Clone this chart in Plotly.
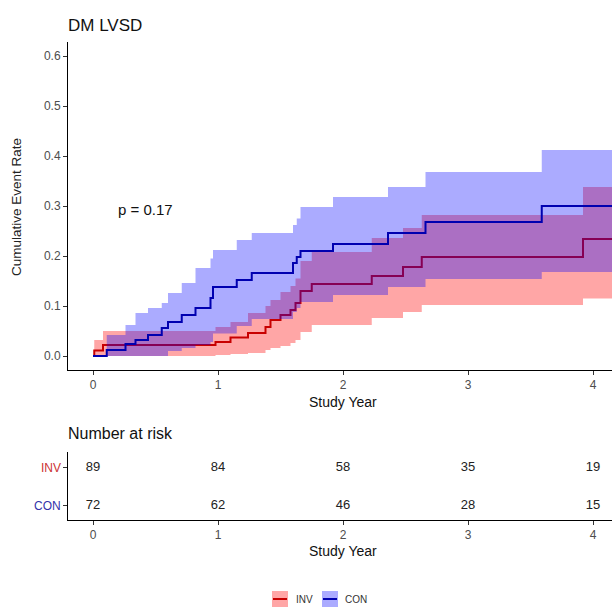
import plotly.graph_objects as go

# Cumulative event rate (1 - KM) with 95% CI, step functions
inv_time = [0, 0.01, 0.08, 0.98, 1.10, 1.24, 1.38, 1.42, 1.50, 1.58, 1.62, 1.66, 1.75, 2.23, 2.48, 2.63, 3.92, 4.2]
inv_est = [0, 0.011, 0.022, 0.028, 0.037, 0.046, 0.058, 0.072, 0.082, 0.092, 0.106, 0.130, 0.144, 0.160, 0.178, 0.198, 0.234, 0.234]
inv_lo = [0, 0, 0, 0.002, 0.004, 0.006, 0.012, 0.016, 0.020, 0.026, 0.032, 0.048, 0.062, 0.076, 0.088, 0.102, 0.115, 0.115]
inv_hi = [0, 0.032, 0.050, 0.058, 0.068, 0.086, 0.100, 0.112, 0.128, 0.140, 0.155, 0.190, 0.208, 0.236, 0.256, 0.282, 0.338, 0.338]

con_time = [0, 0.11, 0.26, 0.34, 0.44, 0.55, 0.60, 0.71, 0.82, 0.94, 0.96, 1.15, 1.27, 1.60, 1.63, 1.66, 1.92, 2.36, 2.66, 3.59, 4.2]
con_est = [0, 0.012, 0.024, 0.032, 0.042, 0.056, 0.068, 0.082, 0.096, 0.116, 0.138, 0.152, 0.166, 0.186, 0.198, 0.210, 0.224, 0.246, 0.268, 0.300, 0.300]
con_lo = [0, 0, 0, 0, 0, 0, 0.010, 0.016, 0.022, 0.028, 0.045, 0.060, 0.074, 0.088, 0.096, 0.108, 0.122, 0.138, 0.154, 0.168, 0.168]
con_hi = [0, 0.042, 0.062, 0.086, 0.096, 0.106, 0.126, 0.146, 0.176, 0.195, 0.212, 0.232, 0.246, 0.262, 0.275, 0.298, 0.318, 0.338, 0.368, 0.412, 0.412]

# Number at risk table
risk_times = [0, 1, 2, 3, 4]
inv_risk = [89, 84, 58, 35, 19]
con_risk = [72, 62, 46, 28, 15]

groups = ["INV", "CON"]
p_label = "p = 0.17"

RED = "#C80000"
BLUE = "#0000B0"
RED_FILL = "rgba(255,0,0,0.35)"
BLUE_FILL = "rgba(0,0,255,0.33)"
FONT = "Liberation Sans, Arial, sans-serif"
TICK_COL = "#4D4D4D"

W, H = 612, 608


def px(x):
    return x / W


def py(y):
    return 1 - y / H


fig = go.Figure()


def add_band(t, lo, hi, fill):
    fig.add_trace(go.Scatter(x=t, y=lo, mode="lines", line=dict(width=0, shape="hv"),
                             hoverinfo="skip", showlegend=False, xaxis="x", yaxis="y"))
    fig.add_trace(go.Scatter(x=t, y=hi, mode="lines", line=dict(width=0, shape="hv"),
                             fill="tonexty", fillcolor=fill, hoverinfo="skip",
                             showlegend=False, xaxis="x", yaxis="y"))


add_band(inv_time, inv_lo, inv_hi, RED_FILL)
fig.add_trace(go.Scatter(x=inv_time, y=inv_est, mode="lines", name="INV",
                         line=dict(color=RED, width=2, shape="hv"), showlegend=False))
add_band(con_time, con_lo, con_hi, BLUE_FILL)
fig.add_trace(go.Scatter(x=con_time, y=con_est, mode="lines", name="CON",
                         line=dict(color=BLUE, width=2, shape="hv"), showlegend=False))

# risk table rows
for row, counts in ((2, inv_risk), (1, con_risk)):
    fig.add_trace(go.Scatter(x=risk_times, y=[row] * len(risk_times), text=[str(v) for v in counts],
                             mode="text", textfont=dict(family=FONT, size=13, color="#222222"),
                             showlegend=False, xaxis="x2", yaxis="y2", hoverinfo="skip"))

xr = [-0.2, (W - 93) / 125]
axis_common = dict(showline=True, linecolor="black", linewidth=1, ticks="outside",
                   ticklen=4, tickcolor="#333333", showgrid=False, zeroline=False,
                   tickfont=dict(family=FONT, size=12, color=TICK_COL))

fig.update_layout(
    width=W, height=H, margin=dict(l=0, r=0, t=0, b=0),
    paper_bgcolor="white", plot_bgcolor="white",
    xaxis=dict(domain=[px(68), 1], range=xr, anchor="y", tickvals=[0, 1, 2, 3, 4], **axis_common),
    yaxis=dict(domain=[py(370), py(42)], range=[-0.028, 0.628], anchor="x",
               tickvals=[0, 0.1, 0.2, 0.3, 0.4, 0.5, 0.6],
               ticktext=["0.0", "0.1", "0.2", "0.3", "0.4", "0.5", "0.6"], **axis_common),
    xaxis2=dict(domain=[px(68), 1], range=xr, anchor="y2", tickvals=[0, 1, 2, 3, 4], **axis_common),
    yaxis2=dict(domain=[py(520), py(452)], range=[0.63, 2.42], anchor="x2",
                tickvals=[1, 2], ticktext=["", ""], **axis_common),
    showlegend=False,
)

ann = []


def text(x, y, s, size, color="black", xanchor="center", angle=0):
    ann.append(dict(x=px(x), y=py(y), xref="paper", yref="paper", text=s, showarrow=False,
                    xanchor=xanchor, yanchor="middle", textangle=angle,
                    font=dict(family=FONT, size=size, color=color)))


text(66, 25, "DM LVSD", 17, "#111111", xanchor="left")
text(16, 207, "Cumulative Event Rate", 13.5, "#222222", angle=-90)
text(343, 402, "Study Year", 14, "#111111")
text(66, 433, "Number at risk", 16, "#111111", xanchor="left")
text(343, 551, "Study Year", 14, "#111111")
text(63, 468, groups[0], 12, "#CC3333", xanchor="right")
text(63, 506, groups[1], 12, "#3333AA", xanchor="right")

# p-value annotation in data coordinates
ann.append(dict(x=0.42, y=0.292, xref="x", yref="y", text=p_label, showarrow=False,
                font=dict(family=FONT, size=15, color="#111111")))

# legend labels and keys
text(294, 599, groups[0], 10, "#333333", xanchor="left")
text(343, 599, groups[1], 10, "#333333", xanchor="left")
fig.update_layout(annotations=ann)

shapes = []
for x0, fill, line in [(272, RED_FILL, RED), (322, BLUE_FILL, BLUE)]:
    shapes.append(dict(type="rect", xref="paper", yref="paper", x0=px(x0), x1=px(x0 + 16),
                       y0=py(607), y1=py(591), fillcolor=fill, line=dict(width=0)))
    shapes.append(dict(type="line", xref="paper", yref="paper", x0=px(x0 + 1), x1=px(x0 + 15),
                       y0=py(599), y1=py(599), line=dict(color=line, width=2)))
fig.update_layout(shapes=shapes)

fig.write_html("out.html")
